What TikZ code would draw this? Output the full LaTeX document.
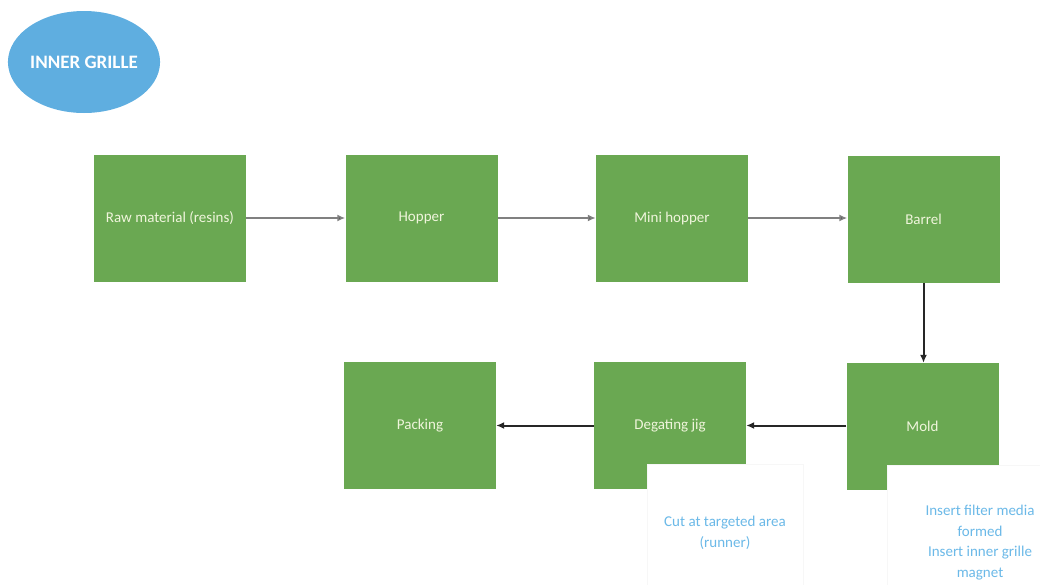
\documentclass[tikz,border=0pt]{standalone}
\usepackage{fontspec}
\setmainfont{Carlito}
\usetikzlibrary{arrows.meta,shapes.geometric}
\definecolor{boxgreen}{HTML}{6AA852}
\definecolor{ovalblue}{HTML}{5FAEE0}
\definecolor{notetext}{HTML}{6BB9E8}
\definecolor{labeltext}{HTML}{F0F5DC}
\begin{document}
\begin{tikzpicture}[x=1pt,y=-1pt,
  stepbox/.style={fill=boxgreen, draw=none, minimum width=152pt, minimum height=127pt,
    inner sep=0pt, text=labeltext, font=\fontsize{15}{18}\selectfont},
  notebox/.style={fill=white, draw=black!3, inner sep=0pt, text=notetext, align=center,
    font=\fontsize{15}{20.5}\selectfont},
  title/.style={ellipse, fill=ovalblue, draw=none, minimum width=152pt, minimum height=102pt,
    inner sep=0pt, text=white, font=\fontsize{19}{22}\selectfont\bfseries},
  flowlight/.style={draw=black!50, line width=2.2pt, -{Latex[length=8pt,width=7pt,fill=black!85]}},
  flowdark/.style={draw=black!85, line width=2pt, -{Latex[length=8pt,width=7pt]}}]
  \useasboundingbox (0,0) rectangle (1040,584);

  % title oval
  \node[title] (title) at (84,62) {INNER GRILLE};

  % upper row of process steps
  \node[stepbox] (raw)    at (170,218)   {Raw material (resins)};
  \node[stepbox] (hopper) at (421.5,218) {Hopper};
  \node[stepbox] (mini)   at (672,218)   {Mini hopper};
  \node[stepbox] (barrel) at (923.5,219) {Barrel};

  % lower row of process steps
  \node[stepbox] (packing) at (420,425.5)   {Packing};
  \node[stepbox] (degate)  at (670,425.5)   {Degating jig};
  \node[stepbox] (mold)    at (922.5,426.5) {Mold};

  % notes laid over the lower right corners of two steps
  \node[notebox, minimum width=156pt, minimum height=138pt] (degatenote) at (725,533)
    {Cut at targeted area\\(runner)};
  \node[notebox, minimum width=186pt, minimum height=155pt] (moldnote) at (980,542.5)
    {Insert filter media\\formed\\Insert inner grille\\magnet};

  % connectors
  \draw[flowlight] (raw.east) -- (hopper.west);
  \draw[flowlight] (hopper.east) -- (mini.west);
  \draw[flowlight] (mini.east) -- (mini.east -| barrel.west);
  \draw[flowdark] (barrel.south) -- (barrel.south |- mold.north);
  \draw[flowdark] (mold.west |- degate.east) -- (degate.east);
  \draw[flowdark] (degate.west) -- (packing.east);
\end{tikzpicture}
\end{document}
